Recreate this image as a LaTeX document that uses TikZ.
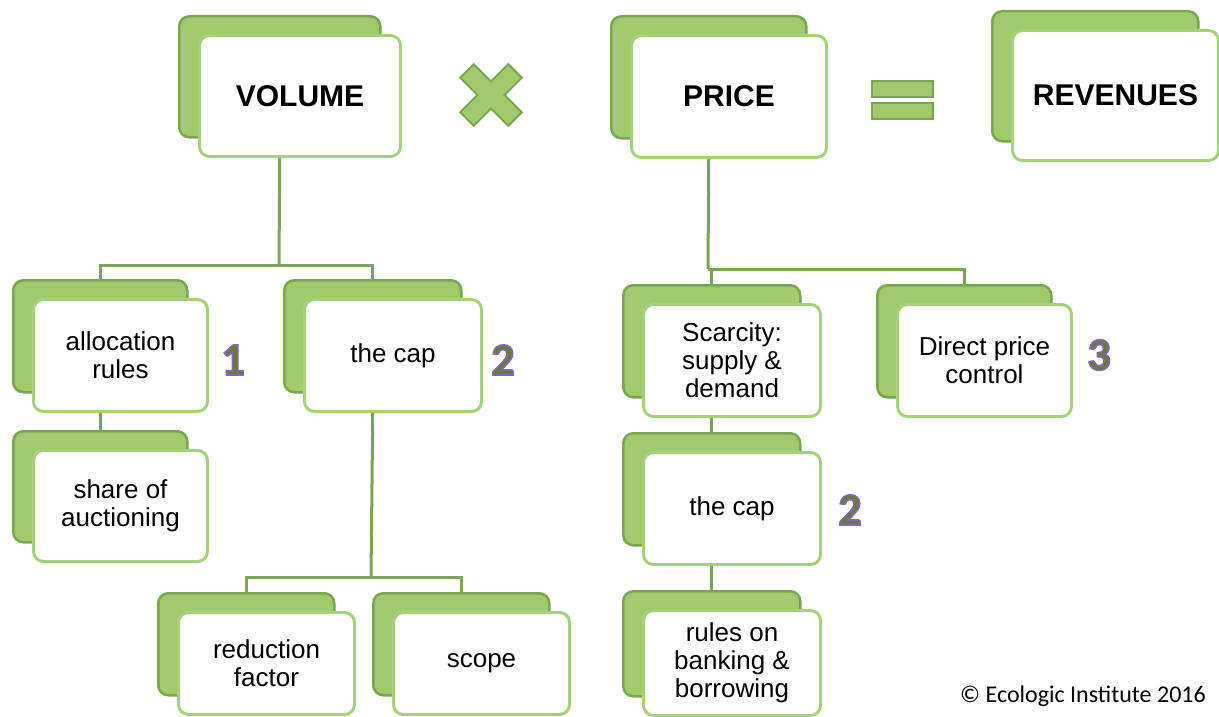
\documentclass[tikz,border=0pt]{standalone}
\usepackage{fontspec}
\setmainfont{Liberation Sans}
\newfontfamily\calib{Carlito}
\usetikzlibrary{calc}
\definecolor{backfill}{HTML}{9FCB6C}
\definecolor{backline}{HTML}{7BA650}
\definecolor{frontline}{HTML}{A4D17A}
\definecolor{connline}{HTML}{7DA454}
\definecolor{digitfill}{HTML}{5F7F35}
\tikzset{
  backbox/.style={draw=backline, fill=backfill, line width=2.5pt, rounded corners=10pt, anchor=north west, inner sep=0pt},
  frontbox/.style={draw=frontline, fill=white, line width=3pt, rounded corners=10pt, anchor=north west, inner sep=0pt, align=center, font=\fontsize{26}{28}\selectfont},
  titlebox/.style={frontbox, font=\fontsize{30}{32}\selectfont\bfseries},
  conn/.style={draw=connline, line width=3pt},
  sym/.style={fill=backfill, draw=backline, line width=2pt},
  digitstyle/.style={font=\calib\bfseries\fontsize{46}{46}\selectfont, inner sep=0pt, text=digitfill},
}
% #1 style, #2 name, #3 x, #4 y, #5 w, #6 h, #7 text
\newcommand\gbox[7][frontbox]{%
  \node[backbox, minimum width=#5pt, minimum height=#6pt] (#2b) at (#3,#4) {};
  \node[#1, minimum width=#5pt, minimum height=#6pt] (#2) at ($(#2b.north west)+(20,19)$) {#7};
}
% outlined digit: fill green, stroke purple
\newcommand\outlined[1]{\special{pdf:literal direct 0.545 0.388 0.667 RG 1.8 w 2 Tr}#1\special{pdf:literal direct 0 Tr}}
\begin{document}
\begin{tikzpicture}[x=1pt,y=-1pt]
\useasboundingbox (0,0) rectangle (1219,717);
% top row
\gbox[titlebox]{vol}{178}{15}{201}{121}{VOLUME}
\gbox[titlebox]{price}{610}{15}{195}{122}{PRICE}
\gbox[titlebox]{rev}{991}{10}{206}{130}{REVENUES}
% multiplication sign
\begin{scope}[shift={(491,95)}, rotate=45]
  \draw[sym, line join=miter] (9.5,34) -- (9.5,9.5) -- (34,9.5) -- (34,-9.5) -- (9.5,-9.5) -- (9.5,-34) -- (-9.5,-34) -- (-9.5,-9.5) -- (-34,-9.5) -- (-34,9.5) -- (-9.5,9.5) -- (-9.5,34) -- cycle;
\end{scope}
% equals sign
\draw[sym] (872,81) rectangle (933,97);
\draw[sym] (872,103) rectangle (933,119);
% volume branch
\gbox{alloc}{12}{279}{174}{112}{allocation\\rules}
\gbox{vcap}{283}{279}{177}{112}{the cap}
\gbox{share}{12}{430}{174}{111}{share of\\auctioning}
\gbox{red}{157}{592}{176}{102}{reduction\\factor}
\gbox{scope}{372}{592}{176}{102}{scope}
% price branch
\gbox{scar}{622}{284}{177}{112}{Scarcity:\\supply \&\\demand}
\gbox{direct}{876}{284}{174}{112}{Direct price\\control}
\gbox{pcap}{622}{432}{177}{112}{the cap}
\gbox{bank}{622}{590}{177}{105}{rules on\\banking \&\\borrowing}
% connectors
\coordinate (vj) at (279,265);
\coordinate (cj) at (371,577);
\coordinate (pj) at (708,269);
\draw[conn] (vol.south -| volb.south) -- (vj);
\draw[conn] (allocb.north) |- (vj) -| (vcapb.north);
\draw[conn] (alloc.south -| allocb.south) -- (shareb.north);
\draw[conn] (vcap.south -| vcapb.south) -- (cj);
\draw[conn] (redb.north) |- (cj) -| (scopeb.north);
\draw[conn] (price.south -| priceb.south) -- (pj);
\draw[conn] (scarb.north) |- (pj) -| (directb.north);
\draw[conn] (scar.south -| scarb.south) -- (pcapb.north);
\draw[conn] (pcap.south -| pcapb.south) -- (bankb.north);
% numbers
\node[digitstyle] (n1) at (233,360) {\outlined{1}};
\node[digitstyle] (n2) at (503,360) {\outlined{2}};
\node[digitstyle] (n3) at (1099,355) {\outlined{3}};
\node[digitstyle] (n4) at (850,510) {\outlined{2}};
% copyright
\node[anchor=base east, font=\calib\fontsize{24}{24}\selectfont, inner sep=0pt] (copy) at (1206,702) {© Ecologic Institute 2016};
\end{tikzpicture}
\end{document}
